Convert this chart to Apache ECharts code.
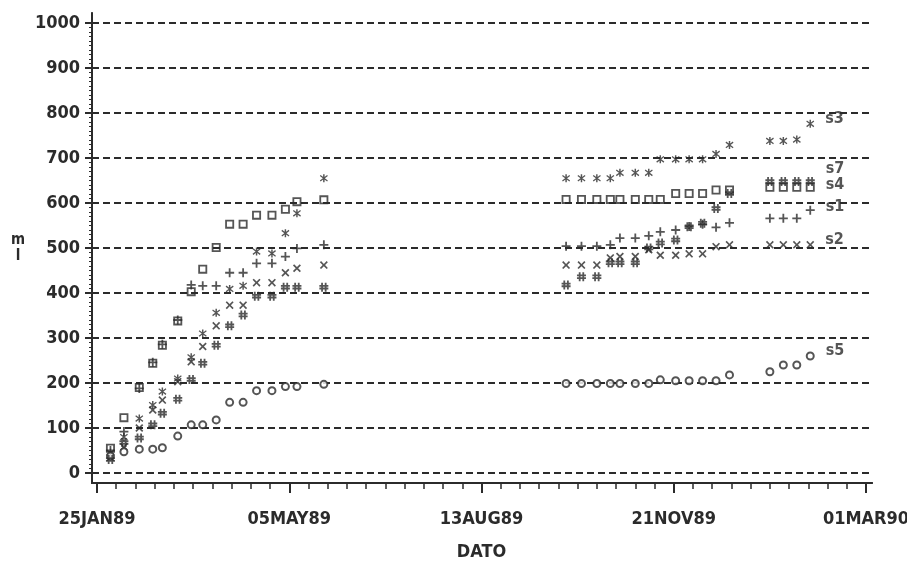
<!DOCTYPE html>
<html><head><meta charset="utf-8">
<script src="https://cdn.jsdelivr.net/npm/echarts@6/dist/echarts.min.js"></script>
<style>html,body{margin:0;padding:0;background:#fff}#c{width:907px;height:564px}</style>
</head><body><div id="c"></div>
<script>
// ---- data ----
const dates = ['1989-02-01','1989-02-08','1989-02-16','1989-02-23','1989-02-28','1989-03-08','1989-03-15','1989-03-21',
  '1989-03-28','1989-04-04','1989-04-11','1989-04-18','1989-04-26','1989-05-03','1989-05-09','1989-05-23',
  '1989-09-26','1989-10-04','1989-10-12','1989-10-19','1989-10-24','1989-11-01','1989-11-08','1989-11-14',
  '1989-11-22','1989-11-29','1989-12-06','1989-12-13','1989-12-20','1990-01-10','1990-01-17','1990-01-24','1990-01-31'];
const s1 = [50,92,188,246,286,340,418,416,416,445,445,466,466,481,499,507,
  504,504,504,507,522,522,527,536,540,548,553,546,556,566,566,566,584];
const s2 = [35,58,100,140,162,203,247,281,327,373,373,423,423,445,455,462,
  462,462,462,478,481,481,496,484,484,487,487,503,507,507,507,507,507];
const s3 = [45,80,121,151,181,210,257,310,356,409,416,492,488,533,577,655,
  655,655,655,655,667,667,667,697,697,697,697,709,729,738,738,741,776];
const s4 = [55,123,190,244,284,338,403,453,501,553,553,573,573,586,603,607,
  608,608,608,608,608,608,608,608,621,621,621,629,629,635,635,635,635];
const s5 = [38,47,53,53,56,82,107,107,118,157,157,183,183,192,192,197,
  199,199,199,199,199,199,199,207,205,205,205,205,218,225,240,240,260];
const s7 = [30,68,78,107,133,164,208,244,284,327,351,393,393,413,413,413,
  418,436,436,467,467,467,500,511,518,547,555,588,621,648,648,648,648];
const seriesNames = ['s1','s2','s3','s4','s5','s7'];
const xStart = '1989-01-25';
const xTickDays = [0,100,200,300,400];
const yTicks = [0,100,200,300,400,500,600,700,800,900,1000];

// ---- helpers ----
const DAY = 86400000;
const MON = ['JAN','FEB','MAR','APR','MAY','JUN','JUL','AUG','SEP','OCT','NOV','DEC'];
function utc(s){const [y,m,d]=s.split('-').map(Number);return Date.UTC(y,m-1,d);}
const BASE = utc(xStart);
function toDay(s){return (utc(s)-BASE)/DAY;}
function fmt(v){const dt=new Date(BASE+v*DAY);
  return String(dt.getUTCDate()).padStart(2,'0')+MON[dt.getUTCMonth()]+String(dt.getUTCFullYear()).slice(2);}

const INK = '#2b2b2b';
const FONT = '"DejaVu Sans Condensed","DejaVu Sans",sans-serif';
const SYM = {
  s1: {symbol:'path://M4,0H6V4H10V6H6V10H4V6H0V4H4Z', size:9},
  s2: {symbol:'path://M0,1.5L1.5,0L5,3.5L8.5,0L10,1.5L6.5,5L10,8.5L8.5,10L5,6.5L1.5,10L0,8.5L3.5,5Z', size:8},
  s3: {symbol:'path://M4.2,0H5.8V10H4.2Z M0.6,2.2L1.4,0.8L9.4,7.8L8.6,9.2Z M8.6,0.8L9.4,2.2L1.4,9.2L0.6,7.8Z', size:8},
  s4: {symbol:'path://M0,0H10V10H0Z M2,2V8H8V2Z', size:9},
  s5: {symbol:'emptyCircle', size:7},
  s7: {symbol:'path://M2,0H4V10H2Z M6,0H8V10H6Z M0,2.5H10V4.5H0Z M0,5.5H10V7.5H0Z', size:9}
};
const labelOffset = {s1:[0,-3], s2:[0,-5], s3:[0,-5], s4:[0,-2], s5:[0,-5], s7:[0,-13]};
const valuesByName = {s1, s2, s3, s4, s5, s7};

const series = seriesNames.map(name => ({
  name, type:'scatter', xAxisIndex:0, yAxisIndex:0,
  symbol: SYM[name].symbol, symbolSize: SYM[name].size,
  itemStyle: name==='s5' ? {color:INK, borderColor:INK, borderWidth:1.8} : {color:INK},
  label: {show:true, position:'right', distance:11, offset:labelOffset[name],
    color:INK, fontFamily:FONT, fontWeight:'bold', fontSize:16,
    formatter: p => p.dataIndex === dates.length-1 ? p.seriesName : ''},
  emphasis:{disabled:true},
  data: valuesByName[name].map((v,i)=>[toDay(dates[i]), v])
}));

const chart = echarts.init(document.getElementById('c'), null, {renderer:'canvas'});
const lineW = 2;
const hiddenAxis = (g) => ({gridIndex:g, type:'value', min:0, max:1, show:false});
const frameLine = (g, pos, style) => ({gridIndex:g, type:'value', min:0, max:1, position:pos,
  axisLine:{show:true, lineStyle:style}, axisTick:{show:false}, axisLabel:{show:false}, splitLine:{show:false}});
chart.setOption({
  animation:false,
  backgroundColor:'#fff',
  grid:[
    {left:97, right:41, top:23, bottom:91, outerBoundsMode:'none'},   // data
    {left:92, right:35, top:23, bottom:91, outerBoundsMode:'none'},   // y scale + grid lines
    {left:92, right:35, top:13, bottom:81, outerBoundsMode:'none'},   // frame
    {left:97, right:41, top:13, bottom:81, outerBoundsMode:'none'}    // date ticks under the frame
  ],
  xAxis:[
    {gridIndex:0, type:'value', min:xTickDays[0], max:xTickDays[xTickDays.length-1], interval:100, show:false},
    hiddenAxis(1),
    frameLine(2, 'bottom', {color:INK, width:lineW}),
    frameLine(2, 'top', {color:INK, width:lineW}),
    {gridIndex:3, type:'value', min:xTickDays[0], max:xTickDays[xTickDays.length-1], interval:100,
     axisLine:{show:false},
     axisTick:{show:true, length:10, lineStyle:{color:INK, width:lineW}},
     minorTick:{show:true, splitNumber:10, length:6, lineStyle:{color:INK, width:1.5}},
     axisLabel:{show:true, margin:27, color:INK, fontFamily:FONT, fontWeight:'bold', fontSize:18,
       showMinLabel:true, showMaxLabel:true, formatter:v=>fmt(v)},
     splitLine:{show:false}, minorSplitLine:{show:false},
     name:'DATO', nameLocation:'middle', nameGap:60,
     nameTextStyle:{color:INK, fontFamily:FONT, fontWeight:'bold', fontSize:18}}
  ],
  yAxis:[
    {gridIndex:0, type:'value', min:yTicks[0], max:yTicks[yTicks.length-1], interval:100, show:false},
    {gridIndex:1, type:'value', min:yTicks[0], max:yTicks[yTicks.length-1], interval:100,
     axisLine:{show:false},
     axisTick:{show:true, length:7, lineStyle:{color:INK, width:lineW}},
     minorTick:{show:true, splitNumber:10, length:3, lineStyle:{color:INK, width:1}},
     axisLabel:{show:true, margin:12, color:INK, fontFamily:FONT, fontWeight:'bold', fontSize:18,
       showMinLabel:true, showMaxLabel:true, formatter:v=>String(v)},
     splitLine:{show:true, lineStyle:{color:INK, width:lineW, type:[7,4]}},
     name:'m\nl', nameLocation:'middle', nameGap:74, nameRotate:0,
     nameTextStyle:{color:INK, fontFamily:FONT, fontWeight:'bold', fontSize:15, lineHeight:16, align:'center', verticalAlign:'middle'}},
    frameLine(2, 'left', {color:INK, width:lineW}),
    frameLine(2, 'right', {color:INK, width:1.5, type:[6,3]}),
    hiddenAxis(3)
  ],
  series
});
</script>
</body></html>
